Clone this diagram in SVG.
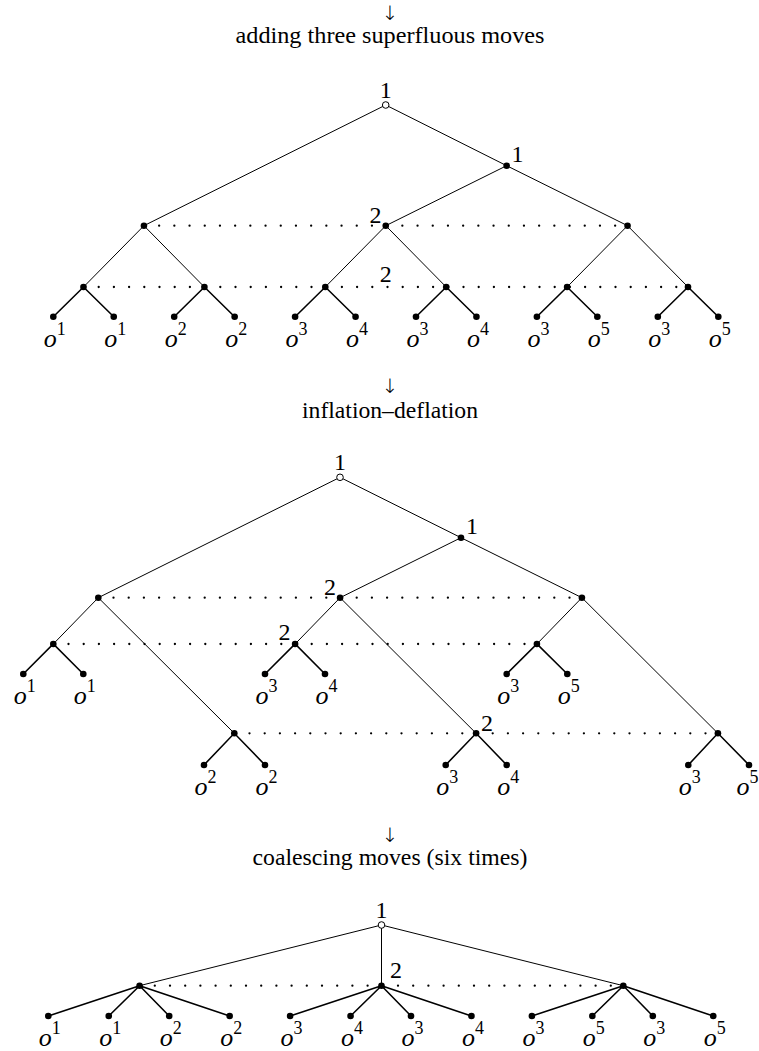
<svg xmlns="http://www.w3.org/2000/svg" width="759" height="1051" viewBox="0 0 759 1051">
<style>
.e{stroke:#000;stroke-width:1;fill:none}
.el{stroke:#000;stroke-width:1.6;fill:none}
.is{stroke:#000;stroke-width:2.3;stroke-linecap:round;stroke-dasharray:0 15.2;fill:none}
.n{fill:#000}
.r{fill:#fff;stroke:#000;stroke-width:1}
.cap{font-family:"Liberation Serif",serif;font-size:23px;text-anchor:middle}
.arr{font-family:"DejaVu Sans","DejaVu Serif",sans-serif;font-weight:200;font-size:20px;text-anchor:middle;fill:#000}
.lbl{font-family:"Liberation Serif",serif;font-size:24px;text-anchor:middle}
.o{font-family:"Liberation Serif",serif;font-style:italic;font-size:26px;text-anchor:middle}
.sup{font-style:normal;font-size:18px}
</style>
<g id="captions">
<text class="arr" x="390" y="19.5">↓</text>
<text class="cap" x="390" y="43.3" textLength="309" lengthAdjust="spacingAndGlyphs">adding three superfluous moves</text>
<text class="arr" x="390" y="393">↓</text>
<text class="cap" x="390" y="418.3" textLength="176" lengthAdjust="spacingAndGlyphs">inflation–deflation</text>
<text class="arr" x="390" y="841.5">↓</text>
<text class="cap" x="390" y="865" textLength="275" lengthAdjust="spacingAndGlyphs">coalescing moves (six times)</text>
</g>
<g id="connectors">
<!-- tree 1 -->
<path class="e" d="M385.7,105 L143.95,225.7 M385.7,105 L506.65,165.7 L385.75,225.7 M506.65,165.7 L627.55,225.7"/>
<path class="e" d="M143.95,225.7 L83.5,287 M143.95,225.7 L204.4,287 M385.75,225.7 L325.3,287 M385.75,225.7 L446.2,287 M627.55,225.7 L567.1,287 M627.55,225.7 L688,287"/>
<path class="el" d="M53.3,316.7 L83.5,287 L113.75,316.7 M174.2,316.7 L204.4,287 L234.65,316.7 M295.1,316.7 L325.3,287 L355.55,316.7 M416,316.7 L446.2,287 L476.45,316.7 M536.9,316.7 L567.1,287 L597.35,316.7 M657.8,316.7 L688,287 L718.3,316.7"/>
<path class="is" d="M143.95,225.7 H627.55 M83.5,287 H688"/>
<!-- tree 2 -->
<path class="e" d="M340,477.3 L98.3,597.7 M340,477.3 L461,537.7 L340.1,597.7 M461,537.7 L581.9,597.7"/>
<path class="e" d="M98.3,597.7 L53.3,644 M98.3,597.7 L234.3,733.3 M340.1,597.7 L295.1,644 M340.1,597.7 L476.1,733.3 M581.9,597.7 L536.9,644 M581.9,597.7 L717.9,733.3"/>
<path class="el" d="M23.3,674 L53.3,644 L83.3,674 M265,674 L295.1,644 L325,674 M506.7,674 L536.9,644 L567.3,674 M204,765 L234.3,733.3 L265,765 M445.7,765 L476.1,733.3 L506.7,765 M688.3,765 L717.9,733.3 L749,765"/>
<path class="is" d="M98.3,597.7 H581.9 M53.3,644 H536.9 M234.3,733.3 H717.9"/>
<!-- tree 3 -->
<path class="e" d="M381.5,925 L139.6,985.7 M381.5,925 L381.5,985.7 M381.5,925 L623.3,985.7"/>
<path class="el" d="M48.3,1016 L139.6,985.7 L108.75,1016 M169.2,1016 L139.6,985.7 L229.65,1016 M290.1,1016 L381.5,985.7 L350.55,1016 M411,1016 L381.5,985.7 L471.45,1016 M531.9,1016 L623.3,985.7 L592.35,1016 M652.8,1016 L623.3,985.7 L713.25,1016"/>
<path class="is" d="M139.6,985.7 H623.3"/>
</g>
<!-- tree 1 nodes -->
<g id="t1-root"><circle class="r" cx="385.7" cy="105" r="3.3"/><text class="lbl" x="385.7" y="98.3">1</text></g>
<g id="t1-p1"><circle class="n" cx="506.65" cy="165.7" r="3.3"/><text class="lbl" x="517.5" y="162">1</text></g>
<g id="t1-a"><circle class="n" cx="143.95" cy="225.7" r="3.3"/></g>
<g id="t1-b"><circle class="n" cx="385.75" cy="225.7" r="3.3"/><text class="lbl" x="375.5" y="222.5">2</text></g>
<g id="t1-c"><circle class="n" cx="627.55" cy="225.7" r="3.3"/></g>
<g id="t1-d1"><circle class="n" cx="83.5" cy="287" r="3.3"/></g>
<g id="t1-d2"><circle class="n" cx="204.4" cy="287" r="3.3"/></g>
<g id="t1-d3"><circle class="n" cx="325.3" cy="287" r="3.3"/><text class="lbl" x="385.7" y="282.3">2</text></g>
<g id="t1-d4"><circle class="n" cx="446.2" cy="287" r="3.3"/></g>
<g id="t1-d5"><circle class="n" cx="567.1" cy="287" r="3.3"/></g>
<g id="t1-d6"><circle class="n" cx="688" cy="287" r="3.3"/></g>
<g id="t1-l1"><circle class="n" cx="53.3" cy="316.7" r="3.3"/><text class="o" x="54.8" y="347">o<tspan class="sup" dy="-12">1</tspan></text></g>
<g id="t1-l2"><circle class="n" cx="113.75" cy="316.7" r="3.3"/><text class="o" x="115.25" y="347">o<tspan class="sup" dy="-12">1</tspan></text></g>
<g id="t1-l3"><circle class="n" cx="174.2" cy="316.7" r="3.3"/><text class="o" x="175.7" y="347">o<tspan class="sup" dy="-12">2</tspan></text></g>
<g id="t1-l4"><circle class="n" cx="234.65" cy="316.7" r="3.3"/><text class="o" x="236.15" y="347">o<tspan class="sup" dy="-12">2</tspan></text></g>
<g id="t1-l5"><circle class="n" cx="295.1" cy="316.7" r="3.3"/><text class="o" x="296.6" y="347">o<tspan class="sup" dy="-12">3</tspan></text></g>
<g id="t1-l6"><circle class="n" cx="355.55" cy="316.7" r="3.3"/><text class="o" x="357.05" y="347">o<tspan class="sup" dy="-12">4</tspan></text></g>
<g id="t1-l7"><circle class="n" cx="416" cy="316.7" r="3.3"/><text class="o" x="417.5" y="347">o<tspan class="sup" dy="-12">3</tspan></text></g>
<g id="t1-l8"><circle class="n" cx="476.45" cy="316.7" r="3.3"/><text class="o" x="477.95" y="347">o<tspan class="sup" dy="-12">4</tspan></text></g>
<g id="t1-l9"><circle class="n" cx="536.9" cy="316.7" r="3.3"/><text class="o" x="538.4" y="347">o<tspan class="sup" dy="-12">3</tspan></text></g>
<g id="t1-l10"><circle class="n" cx="597.35" cy="316.7" r="3.3"/><text class="o" x="598.85" y="347">o<tspan class="sup" dy="-12">5</tspan></text></g>
<g id="t1-l11"><circle class="n" cx="657.8" cy="316.7" r="3.3"/><text class="o" x="659.3" y="347">o<tspan class="sup" dy="-12">3</tspan></text></g>
<g id="t1-l12"><circle class="n" cx="718.3" cy="316.7" r="3.3"/><text class="o" x="719.8" y="347">o<tspan class="sup" dy="-12">5</tspan></text></g>
<!-- tree 2 nodes -->
<g id="t2-root"><circle class="r" cx="340" cy="477.3" r="3.3"/><text class="lbl" x="340" y="470">1</text></g>
<g id="t2-p1"><circle class="n" cx="461" cy="537.7" r="3.3"/><text class="lbl" x="472" y="534">1</text></g>
<g id="t2-a"><circle class="n" cx="98.3" cy="597.7" r="3.3"/></g>
<g id="t2-b"><circle class="n" cx="340.1" cy="597.7" r="3.3"/><text class="lbl" x="330" y="595">2</text></g>
<g id="t2-c"><circle class="n" cx="581.9" cy="597.7" r="3.3"/></g>
<g id="t2-u1"><circle class="n" cx="53.3" cy="644" r="3.3"/></g>
<g id="t2-u2"><circle class="n" cx="295.1" cy="644" r="3.3"/><text class="lbl" x="284.5" y="640">2</text></g>
<g id="t2-u3"><circle class="n" cx="536.9" cy="644" r="3.3"/></g>
<g id="t2-w1"><circle class="n" cx="234.3" cy="733.3" r="3.3"/></g>
<g id="t2-w2"><circle class="n" cx="476.1" cy="733.3" r="3.3"/><text class="lbl" x="487" y="730.5">2</text></g>
<g id="t2-w3"><circle class="n" cx="717.9" cy="733.3" r="3.3"/></g>
<g id="t2-l1"><circle class="n" cx="23.3" cy="674" r="3.3"/><text class="o" x="24.8" y="704">o<tspan class="sup" dy="-12">1</tspan></text></g>
<g id="t2-l2"><circle class="n" cx="83.3" cy="674" r="3.3"/><text class="o" x="84.8" y="704">o<tspan class="sup" dy="-12">1</tspan></text></g>
<g id="t2-l3"><circle class="n" cx="265" cy="674" r="3.3"/><text class="o" x="266.5" y="704">o<tspan class="sup" dy="-12">3</tspan></text></g>
<g id="t2-l4"><circle class="n" cx="325" cy="674" r="3.3"/><text class="o" x="326.5" y="704">o<tspan class="sup" dy="-12">4</tspan></text></g>
<g id="t2-l5"><circle class="n" cx="506.7" cy="674" r="3.3"/><text class="o" x="508.2" y="704">o<tspan class="sup" dy="-12">3</tspan></text></g>
<g id="t2-l6"><circle class="n" cx="567.3" cy="674" r="3.3"/><text class="o" x="568.8" y="704">o<tspan class="sup" dy="-12">5</tspan></text></g>
<g id="t2-l7"><circle class="n" cx="204" cy="765" r="3.3"/><text class="o" x="205.5" y="794.5">o<tspan class="sup" dy="-12">2</tspan></text></g>
<g id="t2-l8"><circle class="n" cx="265" cy="765" r="3.3"/><text class="o" x="266.5" y="794.5">o<tspan class="sup" dy="-12">2</tspan></text></g>
<g id="t2-l9"><circle class="n" cx="445.7" cy="765" r="3.3"/><text class="o" x="447.2" y="794.5">o<tspan class="sup" dy="-12">3</tspan></text></g>
<g id="t2-l10"><circle class="n" cx="506.7" cy="765" r="3.3"/><text class="o" x="508.2" y="794.5">o<tspan class="sup" dy="-12">4</tspan></text></g>
<g id="t2-l11"><circle class="n" cx="688.3" cy="765" r="3.3"/><text class="o" x="689.8" y="794.5">o<tspan class="sup" dy="-12">3</tspan></text></g>
<g id="t2-l12"><circle class="n" cx="749" cy="765" r="3.3"/><text class="o" x="747.5" y="794.5">o<tspan class="sup" dy="-12">5</tspan></text></g>
<!-- tree 3 nodes -->
<g id="t3-root"><circle class="r" cx="381.5" cy="925" r="3.3"/><text class="lbl" x="381.5" y="917.5">1</text></g>
<g id="t3-a"><circle class="n" cx="139.6" cy="985.7" r="3.3"/></g>
<g id="t3-b"><circle class="n" cx="381.5" cy="985.7" r="3.3"/><text class="lbl" x="396" y="978">2</text></g>
<g id="t3-c"><circle class="n" cx="623.3" cy="985.7" r="3.3"/></g>
<g id="t3-l1"><circle class="n" cx="48.3" cy="1016" r="3.3"/><text class="o" x="49.8" y="1045.5">o<tspan class="sup" dy="-12">1</tspan></text></g>
<g id="t3-l2"><circle class="n" cx="108.75" cy="1016" r="3.3"/><text class="o" x="110.25" y="1045.5">o<tspan class="sup" dy="-12">1</tspan></text></g>
<g id="t3-l3"><circle class="n" cx="169.2" cy="1016" r="3.3"/><text class="o" x="170.7" y="1045.5">o<tspan class="sup" dy="-12">2</tspan></text></g>
<g id="t3-l4"><circle class="n" cx="229.65" cy="1016" r="3.3"/><text class="o" x="231.15" y="1045.5">o<tspan class="sup" dy="-12">2</tspan></text></g>
<g id="t3-l5"><circle class="n" cx="290.1" cy="1016" r="3.3"/><text class="o" x="291.6" y="1045.5">o<tspan class="sup" dy="-12">3</tspan></text></g>
<g id="t3-l6"><circle class="n" cx="350.55" cy="1016" r="3.3"/><text class="o" x="352.05" y="1045.5">o<tspan class="sup" dy="-12">4</tspan></text></g>
<g id="t3-l7"><circle class="n" cx="411" cy="1016" r="3.3"/><text class="o" x="412.5" y="1045.5">o<tspan class="sup" dy="-12">3</tspan></text></g>
<g id="t3-l8"><circle class="n" cx="471.45" cy="1016" r="3.3"/><text class="o" x="472.95" y="1045.5">o<tspan class="sup" dy="-12">4</tspan></text></g>
<g id="t3-l9"><circle class="n" cx="531.9" cy="1016" r="3.3"/><text class="o" x="533.4" y="1045.5">o<tspan class="sup" dy="-12">3</tspan></text></g>
<g id="t3-l10"><circle class="n" cx="592.35" cy="1016" r="3.3"/><text class="o" x="593.85" y="1045.5">o<tspan class="sup" dy="-12">5</tspan></text></g>
<g id="t3-l11"><circle class="n" cx="652.8" cy="1016" r="3.3"/><text class="o" x="654.3" y="1045.5">o<tspan class="sup" dy="-12">3</tspan></text></g>
<g id="t3-l12"><circle class="n" cx="713.25" cy="1016" r="3.3"/><text class="o" x="714.75" y="1045.5">o<tspan class="sup" dy="-12">5</tspan></text></g>
</svg>
